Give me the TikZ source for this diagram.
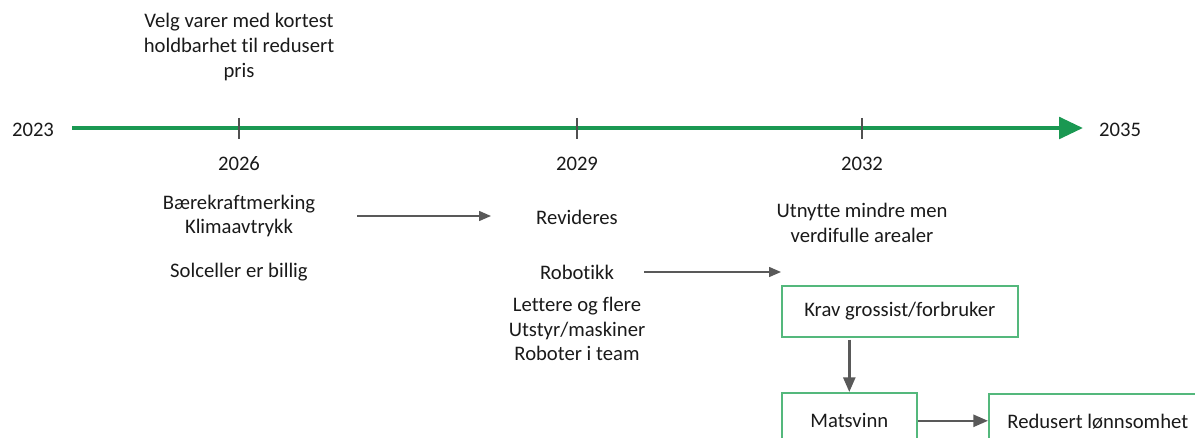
\documentclass[tikz,border=0pt]{standalone}
\usepackage{fontspec}
\setmainfont{Carlito}[Ligatures=NoCommon]
\usetikzlibrary{arrows.meta}
\definecolor{tlgreen}{RGB}{26,152,82}
\definecolor{boxgreen}{RGB}{84,184,124}
\definecolor{arrowgray}{RGB}{89,89,89}
\definecolor{ticgray}{RGB}{80,80,80}
\definecolor{txt}{RGB}{26,26,26}
\begin{document}
\begin{tikzpicture}[x=0.75pt,y=-0.75pt,
  every node/.style={font=\fontsize{15.5}{18.6}\selectfont, text=txt, inner sep=0pt, align=center},
  label/.style={anchor=center},
  stepbox/.style={draw=boxgreen, line width=1.2pt, anchor=north west, minimum height=42pt},
  thinarrow/.style={draw=arrowgray, line width=1.1pt, -{Triangle[length=9pt,width=7.5pt]}},
  flowarrow/.style={draw=arrowgray, line width=1.9pt, -{Triangle[length=11pt,width=9pt]}},
  tick/.style={draw=ticgray, line width=0.8pt}]
\useasboundingbox (0,0) rectangle (1195,438);
\clip (0,0) rectangle (1195,438);

% timeline
\coordinate (tlstart) at (72,128);
\coordinate (tlend) at (1083,128);
\draw[tlgreen, line width=3.4pt, -{Triangle[length=18pt,width=16pt]}] (tlstart) -- (tlend);
\node[label] (y2023) at (33,130) {2023};
\node[label] (y2035) at (1120,130) {2035};

% ticks
\foreach \name/\x in {t26/239, t29/577, t32/862}{
  \coordinate (\name a) at (\x,118);
  \coordinate (\name b) at (\x,139);
  \draw[tick] (\name a) -- (\name b);
}

% year labels
\node[label] (y2026) at (239,164) {2026};
\node[label] (y2029) at (577,164) {2029};
\node[label] (y2032) at (862,164) {2032};

% texts above and below the timeline
\node[label] (velg) at (239,47) {Velg varer med kortest\\holdbarhet til redusert\\pris};
\node[label] (baere) at (239,216) {Bærekraftmerking\\Klimaavtrykk};
\node[label] (sol) at (239,272) {Solceller er billig};
\node[label] (rev) at (577,217) {Revideres};
\node[label] (rob) at (577,272) {Robotikk};
\node[label] (lett) at (577,329) {Lettere og flere\\Utstyr/maskiner\\Roboter i team};
\node[label] (utn) at (862,223) {Utnytte mindre men\\verdifulle arealer};

% connectors between the columns
\coordinate (a1s) at (357,216);
\coordinate (a1e) at (491,216);
\draw[thinarrow] (a1s) -- (a1e);
\coordinate (a2s) at (644,272);
\coordinate (a2e) at (781,272);
\draw[thinarrow] (a2s) -- (a2e);

% flow boxes
\node[stepbox, minimum width=177pt, minimum height=38.25pt] (krav) at (781,285) {Krav grossist/forbruker};
\node[stepbox, minimum width=101.25pt] (mats) at (781,392) {Matsvinn};
\node[stepbox, minimum width=163.5pt] (red) at (988,393) {Redusert lønnsomhet};

\draw[flowarrow] (mats.north |- krav.south) ++(0,2) -- (mats.north);
\draw[flowarrow] (mats.east) -- (red.west |- mats.east);
\end{tikzpicture}
\end{document}
